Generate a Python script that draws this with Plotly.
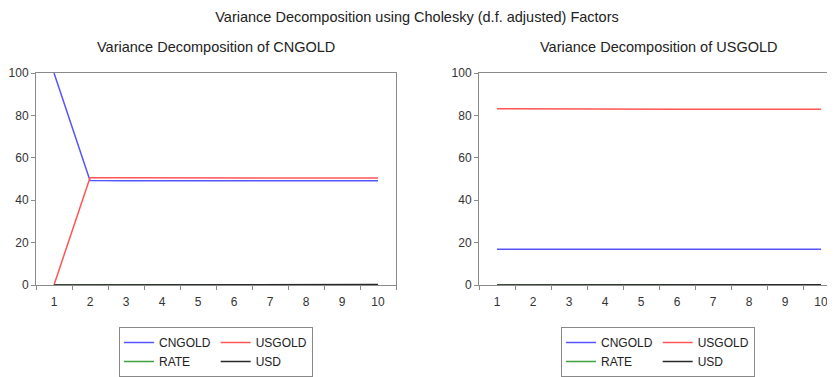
import plotly.graph_objects as go

periods = [1, 2, 3, 4, 5, 6, 7, 8, 9, 10]

# Variance decomposition of CNGOLD
cn_cngold = [100.0, 49.3, 49.2, 49.2, 49.2, 49.2, 49.2, 49.2, 49.2, 49.2]
cn_usgold = [0.0, 50.6, 50.6, 50.5, 50.5, 50.5, 50.5, 50.5, 50.5, 50.5]
cn_rate = [0.0, 0.05, 0.1, 0.1, 0.1, 0.1, 0.1, 0.1, 0.1, 0.1]
cn_usd = [0.0, 0.05, 0.1, 0.2, 0.2, 0.2, 0.2, 0.2, 0.2, 0.2]

# Variance decomposition of USGOLD
us_cngold = [16.9, 16.9, 16.9, 16.9, 16.9, 16.9, 16.9, 16.9, 16.9, 16.9]
us_usgold = [83.1, 83.0, 82.9, 82.9, 82.9, 82.9, 82.9, 82.9, 82.9, 82.9]
us_rate = [0.0, 0.05, 0.1, 0.1, 0.1, 0.1, 0.1, 0.1, 0.1, 0.1]
us_usd = [0.0, 0.05, 0.1, 0.1, 0.1, 0.1, 0.1, 0.1, 0.1, 0.1]

y_ticks = [0, 20, 40, 60, 80, 100]
x_ticks = periods
boundaries = [0.5 + i for i in range(11)]

colors = {"CNGOLD": "rgb(85,85,255)", "USGOLD": "rgb(255,85,85)",
          "RATE": "rgb(60,160,60)", "USD": "rgb(40,40,40)"}
groups = {"CNGOLD": "a", "RATE": "a", "USGOLD": "b", "USD": "b"}
order = ["CNGOLD", "RATE", "USGOLD", "USD"]

left = {"CNGOLD": cn_cngold, "USGOLD": cn_usgold, "RATE": cn_rate, "USD": cn_usd}
right = {"CNGOLD": us_cngold, "USGOLD": us_usgold, "RATE": us_rate, "USD": us_usd}

fig = go.Figure()
for data, xa, ya, lg in [(left, "x", "y", "legend"), (right, "x2", "y2", "legend2")]:
    for n in order:
        fig.add_trace(go.Scatter(
            x=periods, y=data[n], mode="lines", name=n,
            line=dict(color=colors[n], width=1.5),
            legendgroup=groups[n] + lg, xaxis=xa, yaxis=ya, legend=lg,
            cliponaxis=False,
        ))

# page has an 8px body margin: figure is sized/positioned to compensate
W, H = 827, 369
axis_col = "#8a8a8a"
tickfont = dict(family="Liberation Sans, Arial, sans-serif", size=12, color="#333333")
top, bottom = 65, 281
ph = bottom - top

def xaxis(domain, rng):
    return dict(domain=domain, range=rng, tickvals=x_ticks, ticks="", showgrid=False,
                zeroline=False, showline=True, linecolor=axis_col, linewidth=1, mirror=True,
                tickfont=tickfont, ticklabelstandoff=6,
                minor=dict(tickvals=boundaries, ticks="outside", ticklen=4,
                           tickcolor=axis_col, tickwidth=1, showgrid=False))

def yaxis(anchor, mirror):
    return dict(anchor=anchor, domain=[0, 1], range=[0, 100], tickvals=y_ticks, ticks="outside",
                ticklen=4, tickcolor=axis_col, showgrid=False, zeroline=False, showline=True,
                linecolor=axis_col, linewidth=1, mirror=mirror, tickfont=tickfont)

legend_font = dict(family="Liberation Sans, Arial, sans-serif", size=12, color="#222222")

fig.update_layout(
    width=W, height=H,
    margin=dict(l=0, r=0, t=top, b=H - bottom),
    paper_bgcolor="white", plot_bgcolor="white",
    xaxis=xaxis([28 / W, 388 / W], [0.5, 10.5]),
    yaxis=yaxis("x", True),
    xaxis2=dict(xaxis([471 / W, 1.0], [0.5, 0.5 + 356 / 36]), anchor="y2"),
    yaxis2=yaxis("x2", False),
    title=dict(text="Variance Decomposition using Cholesky (d.f. adjusted) Factors",
               x=(417 - 8) / W, xanchor="center", y=1 - 9 / H, yanchor="middle",
               font=dict(family="Liberation Sans, Arial, sans-serif", size=14.5, color="#222222")),
    showlegend=True,
    legend=dict(orientation="h", traceorder="grouped", x=208 / W, xanchor="center",
                y=(bottom - 324) / ph, yanchor="top", bordercolor="#888888", borderwidth=1,
                font=legend_font, tracegroupgap=18),
    legend2=dict(orientation="h", traceorder="grouped", x=650 / W, xanchor="center",
                 y=(bottom - 324) / ph, yanchor="top", bordercolor="#888888", borderwidth=1,
                 font=legend_font, tracegroupgap=18),
)

sub_font = dict(family="Liberation Sans, Arial, sans-serif", size=14.5, color="#222222")
for label, cx in [("Variance Decomposition of CNGOLD", 208), ("Variance Decomposition of USGOLD", 650)]:
    fig.add_annotation(text=label, xref="paper", yref="paper",
                       x=cx / W, y=(bottom - 39) / ph, xanchor="center", yanchor="middle",
                       showarrow=False, font=sub_font)

fig.write_html("out.html")
